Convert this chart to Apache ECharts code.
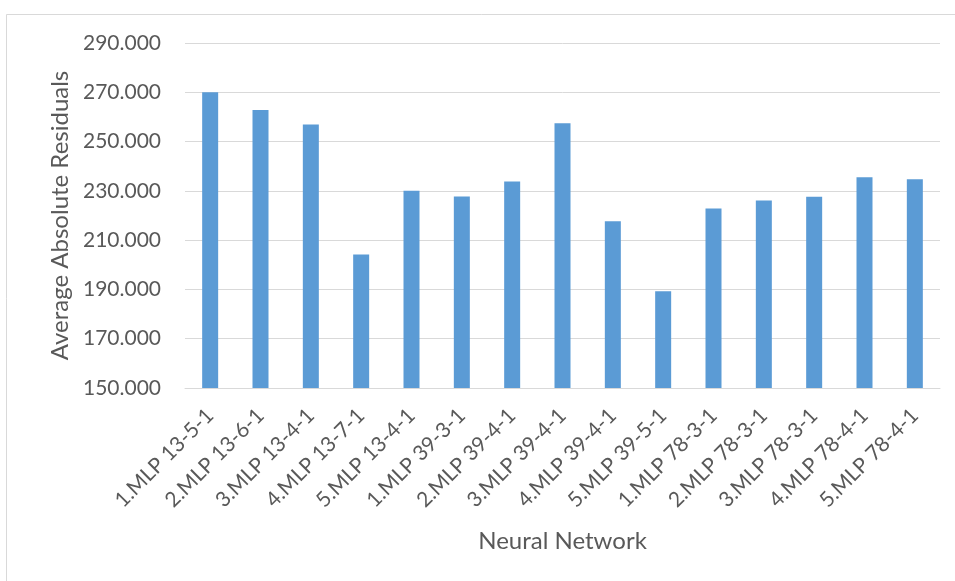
<!DOCTYPE html>
<html>
<head>
<meta charset="utf-8">
<script src="https://cdn.jsdelivr.net/npm/echarts@6/dist/echarts.min.js"></script>
<style>
  html, body { margin: 0; padding: 0; background: #fff; }
  #chart { width: 955px; height: 581px; }
</style>
</head>
<body>
<div id="chart"></div>
<script>
const networks = [
  '1.MLP 13-5-1', '2.MLP 13-6-1', '3.MLP 13-4-1', '4.MLP 13-7-1', '5.MLP 13-4-1',
  '1.MLP 39-3-1', '2.MLP 39-4-1', '3.MLP 39-4-1', '4.MLP 39-4-1', '5.MLP 39-5-1',
  '1.MLP 78-3-1', '2.MLP 78-3-1', '3.MLP 78-3-1', '4.MLP 78-4-1', '5.MLP 78-4-1'
]
const residuals = [270.0, 262.8, 256.9, 204.2, 230.0, 227.7, 233.8, 257.4, 217.7, 189.3, 222.8, 226.1, 227.6, 235.5, 234.7]
const yMin = 150
const yMax = 290
const yStep = 20

const font = 'Lato, "Open Sans", sans-serif'
const chart = echarts.init(document.getElementById('chart'))
const option = {
  backgroundColor: '#fff',
  animation: false,
  graphic: [
    {
      type: 'rect',
      shape: { x: 6.5, y: 14.5, width: 960, height: 600 },
      style: { fill: 'none', stroke: '#d9d9d9', lineWidth: 1 }
    }
  ],
  grid: {
    left: 185,
    right: 15,
    top: 43,
    bottom: 193
  },
  xAxis: {
    type: 'category',
    data: networks,
    name: 'Neural Network',
    nameLocation: 'middle',
    nameGap: 141,
    nameTextStyle: { color: '#595959', fontSize: 24, fontFamily: font },
    axisLine: { lineStyle: { color: '#d9d9d9', width: 1 } },
    axisTick: { show: false },
    axisLabel: {
      rotate: 45,
      interval: 0,
      margin: 24,
      color: '#595959',
      fontSize: 21,
      fontFamily: font
    }
  },
  yAxis: {
    type: 'value',
    min: yMin,
    max: yMax,
    interval: yStep,
    name: 'Average Absolute Residuals',
    nameLocation: 'middle',
    nameGap: 108,
    nameTextStyle: { color: '#595959', fontSize: 24, fontFamily: font },
    axisLine: { show: false },
    axisTick: { show: false },
    axisLabel: {
      margin: 24,
      color: '#595959',
      fontSize: 21,
      fontFamily: font,
      formatter: (v) => v.toFixed(3)
    },
    splitLine: { lineStyle: { color: '#d9d9d9', width: 1 } }
  },
  series: [
    {
      type: 'bar',
      data: residuals,
      barWidth: 16,
      itemStyle: { color: '#5b9bd5' }
    }
  ]
}
chart.setOption(option)
</script>
</body>
</html>
